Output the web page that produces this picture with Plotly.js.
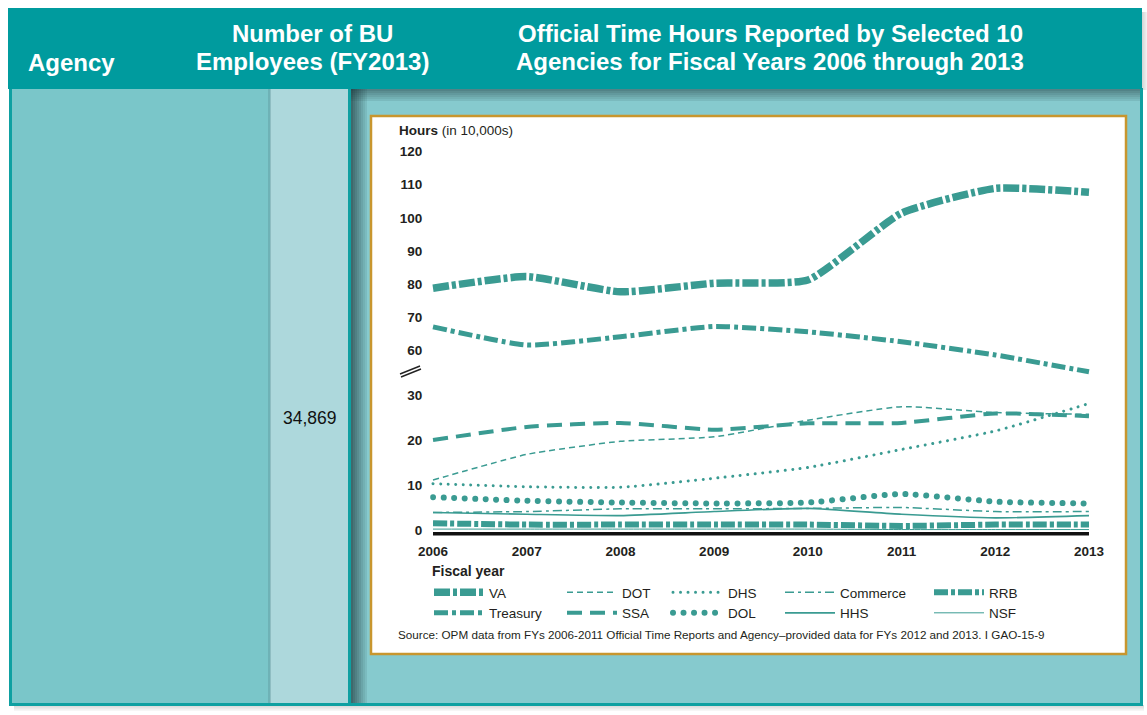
<!DOCTYPE html>
<html><head><meta charset="utf-8">
<script src="https://cdn.plot.ly/plotly-3.0.1.min.js"></script>
<style>html,body{margin:0;padding:0;background:#fff;} #chart{width:1147px;height:715px;}</style>
</head><body><div id="chart"></div>
<script>
// ---------- data ----------
const years = [2006, 2007, 2008, 2009, 2010, 2011, 2012, 2013];
const va       = [78.7, 82.2, 77.6, 80.2, 81.2, 101.4, 108.9, 107.7];
const treasury = [67.0, 61.5, 64.0, 67.1, 65.5, 62.5, 58.5, 53.4];
const dot      = [11.1, 16.8, 19.7, 20.7, 24.4, 27.4, 26.1, 25.7];
const ssa      = [20.0, 22.9, 23.8, 22.3, 23.7, 23.8, 25.9, 25.3];
const dhs      = [10.3, 9.6, 9.5, 11.5, 13.9, 17.9, 22.0, 28.1];
const dol      = [7.3, 6.5, 6.1, 5.9, 6.1, 8.0, 6.3, 5.9];
const commerce = [3.9, 4.1, 4.7, 4.7, 4.8, 5.0, 4.1, 4.1];
const hhs      = [3.9, 3.5, 3.2, 4.1, 4.8, 3.5, 2.7, 3.2];
const rrb      = [1.5, 1.2, 1.2, 1.2, 1.2, 0.9, 1.2, 1.2];
const nsf      = [0.2, 0.2, 0.2, 0.2, 0.2, 0.1, 0.1, 0.1];
const lowerTicks = [0, 10, 20, 30];
const upperTicks = [60, 70, 80, 90, 100, 110, 120];
const xTicks = years;
const buEmployees = '34,869';

// ---------- geometry helpers ----------
const W = 1147, H = 715;
const px = v => v / W;
const py = v => 1 - v / H;
const TEAL = '#3A9B92';
const SANS = '"Liberation Sans", Arial, Helvetica, sans-serif';

function tr(name, y, yaxis, width, dash, legend) {
  return {
    x: years, y: y, name: name, type: 'scatter', mode: 'lines',
    xaxis: 'x', yaxis: yaxis, legend: legend,
    line: {color: TEAL, width: width, dash: dash, shape: 'spline', smoothing: 0.5},
    hoverinfo: 'skip'
  };
}

const data = [
  tr('VA', va, 'y2', 7.5, '16px,3px,4px,3px', 'legend'),
  tr('Treasury', treasury, 'y2', 5, '14px,4px,4px,4px', 'legend'),
  tr('DOT', dot, 'y', 1.5, '6px,4px', 'legend2'),
  tr('SSA', ssa, 'y', 4, '15px,8px', 'legend2'),
  tr('DHS', dhs, 'y', 3, '3px,5px', 'legend3'),
  tr('DOL', dol, 'y', 6, '6px,4.5px', 'legend3'),
  tr('Commerce', commerce, 'y', 1.5, '9px,4px,3px,4px', 'legend4'),
  tr('HHS', hhs, 'y', 1.6, 'solid', 'legend4'),
  tr('RRB', rrb, 'y', 6, '14px,3px,4px,3px', 'legend5'),
  tr('NSF', nsf, 'y', 1, 'solid', 'legend5')
];
// round-dot styling (period in px) for the dotted series
const roundDots = {DHS: 7.5, DOL: 10.5};

// ---------- panel shapes ----------
const shapes = [];
function rect(x0, y0, x1, y1, fill, extra) {
  shapes.push(Object.assign({type: 'rect', xref: 'paper', yref: 'paper', layer: 'below',
    x0: px(x0), x1: px(x1), y0: py(y1), y1: py(y0), fillcolor: fill, line: {width: 0}}, extra || {}));
}
function seg(x0, y0, x1, y1, color, width, layer) {
  shapes.push({type: 'line', xref: 'paper', yref: 'paper', layer: layer || 'above',
    x0: px(x0), x1: px(x1), y0: py(y0), y1: py(y1), line: {color: color, width: width}});
}
// outer soft shadows
for (let i = 0; i < 6; i++) {
  rect(14, 705 + i, 1144, 706 + i, 'rgba(0,0,0,' + (0.16 - i * 0.025) + ')');
  rect(1142 + i, 12, 1143 + i, 90, 'rgba(0,0,0,' + (0.16 - i * 0.025) + ')');
}
// left panel
rect(9, 88, 351, 706, '#0EA0A1');
rect(12, 89, 270, 703, '#7AC6C9');
rect(270, 89, 348, 703, '#ADD8DC');
rect(268, 89, 271, 703, 'rgba(90,140,145,0.35)');
// right panel
rect(350, 88, 1143, 706, '#0EA0A1');
rect(351, 89, 1140, 703, '#86CACE');
// shadow on right panel (left edge and top)
for (let i = 0; i < 8; i++) {
  rect(351 + i * 2, 89, 353 + i * 2, 703, 'rgba(20,45,48,' + (0.62 - i * 0.075) + ')');
}
for (let i = 0; i < 6; i++) {
  rect(351, 89 + i * 2, 1140, 91 + i * 2, 'rgba(20,45,48,' + (0.45 - i * 0.07) + ')');
}
// header band
rect(8, 8, 1142, 89, '#009B9E');
// chart box
rect(371, 116, 1126, 654, '#FFFFFF', {line: {color: '#C8962E', width: 2.5}});

// axis baseline and break mark
shapes.push({type: 'line', xref: 'x', yref: 'y', layer: 'above', x0: 2006, x1: 2013, y0: -0.9, y1: -0.9,
  line: {color: '#111111', width: 4}});
seg(400, 374, 420, 366, '#222', 1.4);
seg(401, 377, 421, 369, '#222', 1.4);

// ---------- text ----------
const annotations = [];
function txt(text, x, y, size, opts) {
  annotations.push(Object.assign({text: text, xref: 'paper', yref: 'paper', x: px(x), y: py(y),
    xanchor: 'left', yanchor: 'middle', showarrow: false,
    font: {family: SANS, size: size, color: '#FFFFFF'}}, opts || {}));
}
txt('<b>Agency</b>', 26, 63, 24);
txt('<b>Number of BU</b>', 312, 33, 24, {xanchor: 'center'});
txt('<b>Employees (FY2013)</b>', 312, 62, 24, {xanchor: 'center'});
txt('<b>Official Time Hours Reported by Selected 10</b>', 770, 33, 24, {xanchor: 'center'});
txt('<b>Agencies for Fiscal Years 2006 through 2013</b>', 770, 62, 24, {xanchor: 'center'});
txt(buEmployees, 310, 418, 17.5, {xanchor: 'center', font: {family: SANS, size: 17.5, color: '#111111'}});
txt('<b>Hours</b> (in 10,000s)', 397, 130, 13.5, {font: {family: SANS, size: 13.5, color: '#231F20'}});
txt('<b>Fiscal year</b>', 430, 571, 14, {font: {family: SANS, size: 14, color: '#231F20'}});
txt('Source: OPM data from FYs 2006-2011 Official Time Reports and Agency\u2013provided data for FYs 2012 and 2013. I GAO-15-9',
  396, 634, 11.7, {font: {family: SANS, size: 11.7, color: '#231F20'}});

// ---------- legends ----------
function leg(x) {
  return {x: px(x), y: py(577), xref: 'paper', yref: 'paper', xanchor: 'left', yanchor: 'top',
    orientation: 'v', bgcolor: 'rgba(0,0,0,0)', borderwidth: 0, itemwidth: 50,
    traceorder: 'normal', tracegroupgap: 0,
    font: {family: SANS, size: 13.5, color: '#231F20'}};
}

// ---------- axes ----------
const xr = [2005.97, 2013.03];
const tickFont = {family: SANS, size: 13.5, color: '#231F20', weight: 'bold'};
const layout = {
  width: W, height: H,
  margin: {l: 0, r: 0, t: 0, b: 0},
  paper_bgcolor: '#FFFFFF', plot_bgcolor: 'rgba(0,0,0,0)',
  showlegend: true,
  xaxis: {domain: [px(430.2), px(1091.8)], range: xr, anchor: 'y',
    tickvals: xTicks, ticktext: xTicks.map(String), ticks: '', showgrid: false, zeroline: false,
    showline: false, ticklabelstandoff: 6, tickfont: tickFont},
  yaxis: {domain: [py(535.4), py(388.25)], range: [-1.2, 31.5], anchor: 'x',
    tickvals: lowerTicks, ticks: '', showgrid: false, zeroline: false, showline: false,
    ticklabelstandoff: 7, tickfont: tickFont},
  yaxis2: {domain: [py(376.44), py(145.09)], range: [52, 122], anchor: 'x',
    tickvals: upperTicks, ticks: '', showgrid: false, zeroline: false, showline: false,
    ticklabelstandoff: 7, tickfont: tickFont},
  legend: leg(429), legend2: leg(562), legend3: leg(668), legend4: leg(780), legend5: leg(929),
  shapes: shapes,
  annotations: annotations
};

function traceOf(el) {
  let d = el.__data__;
  while (Array.isArray(d)) d = d[0];
  return d && d.trace;
}
Plotly.newPlot('chart', data, layout, {staticPlot: true, displayModeBar: false}).then(gd => {
  gd.querySelectorAll('g.trace, g.traces').forEach(g => {
    const t = traceOf(g);
    if (!t || !(t.name in roundDots)) return;
    g.querySelectorAll('path.js-line').forEach(p => {
      p.style.strokeLinecap = 'round';
      p.style.strokeDasharray = '0.01px,' + roundDots[t.name] + 'px';
    });
  });
});
</script>
</body></html>
